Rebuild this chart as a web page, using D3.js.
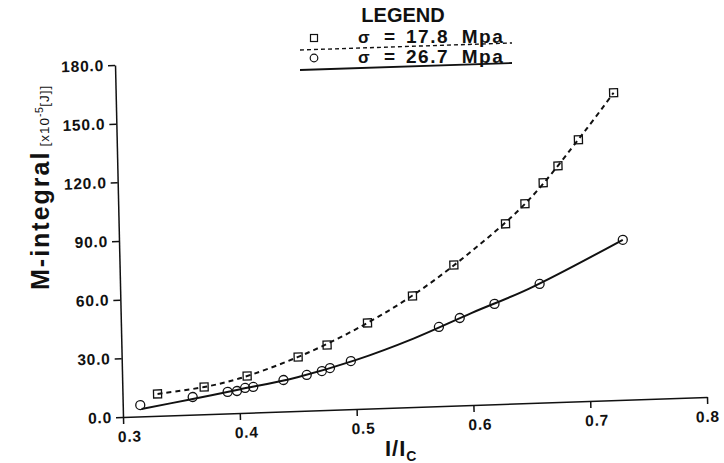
<!DOCTYPE html>
<html>
<head>
<meta charset="utf-8">
<script src="https://cdn.jsdelivr.net/npm/d3@7/dist/d3.min.js"></script>
<style>
  body { margin: 0; background: #fff; }
  text { font-family: "Liberation Sans", Arial, sans-serif; fill: #111; }
  .axis path, .axis line { stroke: #111; stroke-width: 1.5; }
  .axis text { font-size: 15.5px; font-weight: bold; letter-spacing: 0.8px; }
</style>
</head>
<body>
<div id="chart"></div>
<script>
// data
var xTicks = [0.3, 0.4, 0.5, 0.6, 0.7, 0.8];
var yTicks = [0, 30, 60, 90, 120, 150, 180];

// sigma = 17.8 Mpa (squares)
var sqX = [0.330, 0.370, 0.407, 0.451, 0.476, 0.511, 0.550, 0.586, 0.631, 0.648, 0.664, 0.677, 0.695, 0.726];
var sqY = [11.2, 13.9, 18.8, 27.6, 33.2, 43.8, 56.8, 71.9, 92.0, 101.9, 112.3, 120.7, 133.7, 157.1];
// sigma = 26.7 Mpa (circles)
var ciX = [0.315, 0.360, 0.390, 0.398, 0.405, 0.412, 0.438, 0.458, 0.471, 0.478, 0.496, 0.572, 0.590, 0.620, 0.659, 0.731];
var ciY = [5.8, 9.0, 11.0, 11.3, 12.7, 13.1, 16.1, 18.3, 20.0, 21.4, 24.6, 40.5, 44.7, 51.3, 60.7, 81.8];

// fitted curves drawn through the points
var dashFitX = [0.330, 0.370, 0.400, 0.450, 0.500, 0.550, 0.600, 0.650, 0.700, 0.726];
var dashFitY = [11.2, 13.9, 17.6, 27.4, 40.5, 57.0, 78.0, 103.0, 137.5, 157.1];
var solidFitX = [0.316, 0.360, 0.400, 0.450, 0.500, 0.550, 0.600, 0.650, 0.731];
var solidFitY = [3.8, 8.0, 12.0, 17.3, 25.0, 35.0, 47.0, 58.5, 81.8];

var legendLabels = ['17.8 Mpa', '26.7 Mpa'];

var width = 724, height = 463;
var W = 584, H = 352;

var svg = d3.select('#chart').append('svg')
  .attr('width', width)
  .attr('height', height);

// the scan is slightly rotated, so the plot frame is too
var g = svg.append('g')
  .attr('transform', 'matrix(1,-0.03425,0.0227,1,123,417)');

var xScale = d3.scaleLinear().domain([0.3, 0.8]).range([0, W]);
var yScale = d3.scaleLinear().domain([0, 180]).range([0, -H]);

var xAxis = d3.axisBottom(xScale)
  .tickValues(xTicks)
  .tickSize(7)
  .tickSizeOuter(0)
  .tickPadding(7)
  .tickFormat(d3.format('.1f'));

var gx = g.append('g').attr('class', 'axis').call(xAxis);
gx.selectAll('text').attr('dx', function (d) { return d === 0.8 ? 0 : 6; });

var yAxis = d3.axisLeft(yScale)
  .tickValues(yTicks)
  .tickSize(7)
  .tickSizeOuter(0)
  .tickPadding(4)
  .tickFormat(d3.format('.1f'));

g.append('g').attr('class', 'axis').call(yAxis);

var fitLine = d3.line()
  .x(function (d) { return xScale(d[0]); })
  .y(function (d) { return yScale(d[1]); })
  .curve(d3.curveCatmullRom);

g.append('path')
  .datum(d3.zip(dashFitX, dashFitY))
  .attr('d', fitLine)
  .attr('fill', 'none')
  .attr('stroke', '#111')
  .attr('stroke-width', 2)
  .attr('stroke-dasharray', '5,4');

g.append('path')
  .datum(d3.zip(solidFitX, solidFitY))
  .attr('d', fitLine)
  .attr('fill', 'none')
  .attr('stroke', '#111')
  .attr('stroke-width', 2);

var s = 8;
g.selectAll('.sq')
  .data(d3.zip(sqX, sqY))
  .enter().append('rect')
  .attr('class', 'sq')
  .attr('x', function (d) { return xScale(d[0]) - s / 2; })
  .attr('y', function (d) { return yScale(d[1]) - s / 2; })
  .attr('width', s)
  .attr('height', s)
  .attr('fill', 'none')
  .attr('stroke', '#111')
  .attr('stroke-width', 1.3);

g.selectAll('.ci')
  .data(d3.zip(ciX, ciY))
  .enter().append('circle')
  .attr('class', 'ci')
  .attr('cx', function (d) { return xScale(d[0]); })
  .attr('cy', function (d) { return yScale(d[1]); })
  .attr('r', 4.5)
  .attr('fill', 'none')
  .attr('stroke', '#111')
  .attr('stroke-width', 1.3);

// axis titles
var yt = svg.append('text')
  .attr('transform', 'translate(49,290) rotate(-90)');
yt.append('tspan')
  .attr('font-size', 25)
  .attr('font-weight', 'bold')
  .attr('letter-spacing', 2)
  .text('M-integral');
yt.append('tspan')
  .attr('dx', 4)
  .attr('font-size', 13.5)
  .attr('letter-spacing', 1)
  .text('[x10');
yt.append('tspan')
  .attr('font-size', 10.5)
  .attr('dy', -6)
  .attr('letter-spacing', 0.5)
  .text('-5');
yt.append('tspan')
  .attr('font-size', 13.5)
  .attr('dy', 6)
  .attr('letter-spacing', 1)
  .text('[J]]');

var xt = svg.append('text')
  .attr('x', 385)
  .attr('y', 456)
  .attr('font-weight', 'bold');
xt.append('tspan').attr('font-size', 22).attr('letter-spacing', 1).text('I/I');
xt.append('tspan').attr('font-size', 14).attr('dy', 5).text('C');

// legend
var lg = svg.append('g');
lg.append('text')
  .attr('x', 403)
  .attr('y', 22)
  .attr('text-anchor', 'middle')
  .attr('font-size', 20)
  .attr('font-weight', 'bold')
  .text('LEGEND');

var rowY = [43, 63];
var lineY = [[50, 43], [70, 63]];

lg.append('rect')
  .attr('x', 310.5).attr('y', rowY[0] - 8.5)
  .attr('width', 7).attr('height', 7)
  .attr('fill', 'none').attr('stroke', '#111').attr('stroke-width', 1.2);
lg.append('circle')
  .attr('cx', 314).attr('cy', rowY[1] - 5)
  .attr('r', 3.8)
  .attr('fill', 'none').attr('stroke', '#111').attr('stroke-width', 1.2);

legendLabels.forEach(function (lab, i) {
  lg.append('text')
    .attr('x', 358).attr('y', rowY[i])
    .attr('font-size', 17)
    .attr('font-weight', 'bold')
    .text('σ');
  lg.append('text')
    .attr('x', 384).attr('y', rowY[i])
    .attr('font-size', 19)
    .attr('font-weight', 'bold')
    .text('=');
  lg.append('text')
    .attr('x', 406).attr('y', rowY[i])
    .attr('font-size', 19)
    .attr('font-weight', 'bold')
    .attr('letter-spacing', 1.5)
    .attr('word-spacing', 6)
    .text(lab);
  lg.append('line')
    .attr('x1', 300).attr('y1', lineY[i][0])
    .attr('x2', 512).attr('y2', lineY[i][1])
    .attr('stroke', '#111')
    .attr('stroke-width', i === 0 ? 1.4 : 1.8)
    .attr('stroke-dasharray', i === 0 ? '4,3' : null);
});
</script>
</body>
</html>
